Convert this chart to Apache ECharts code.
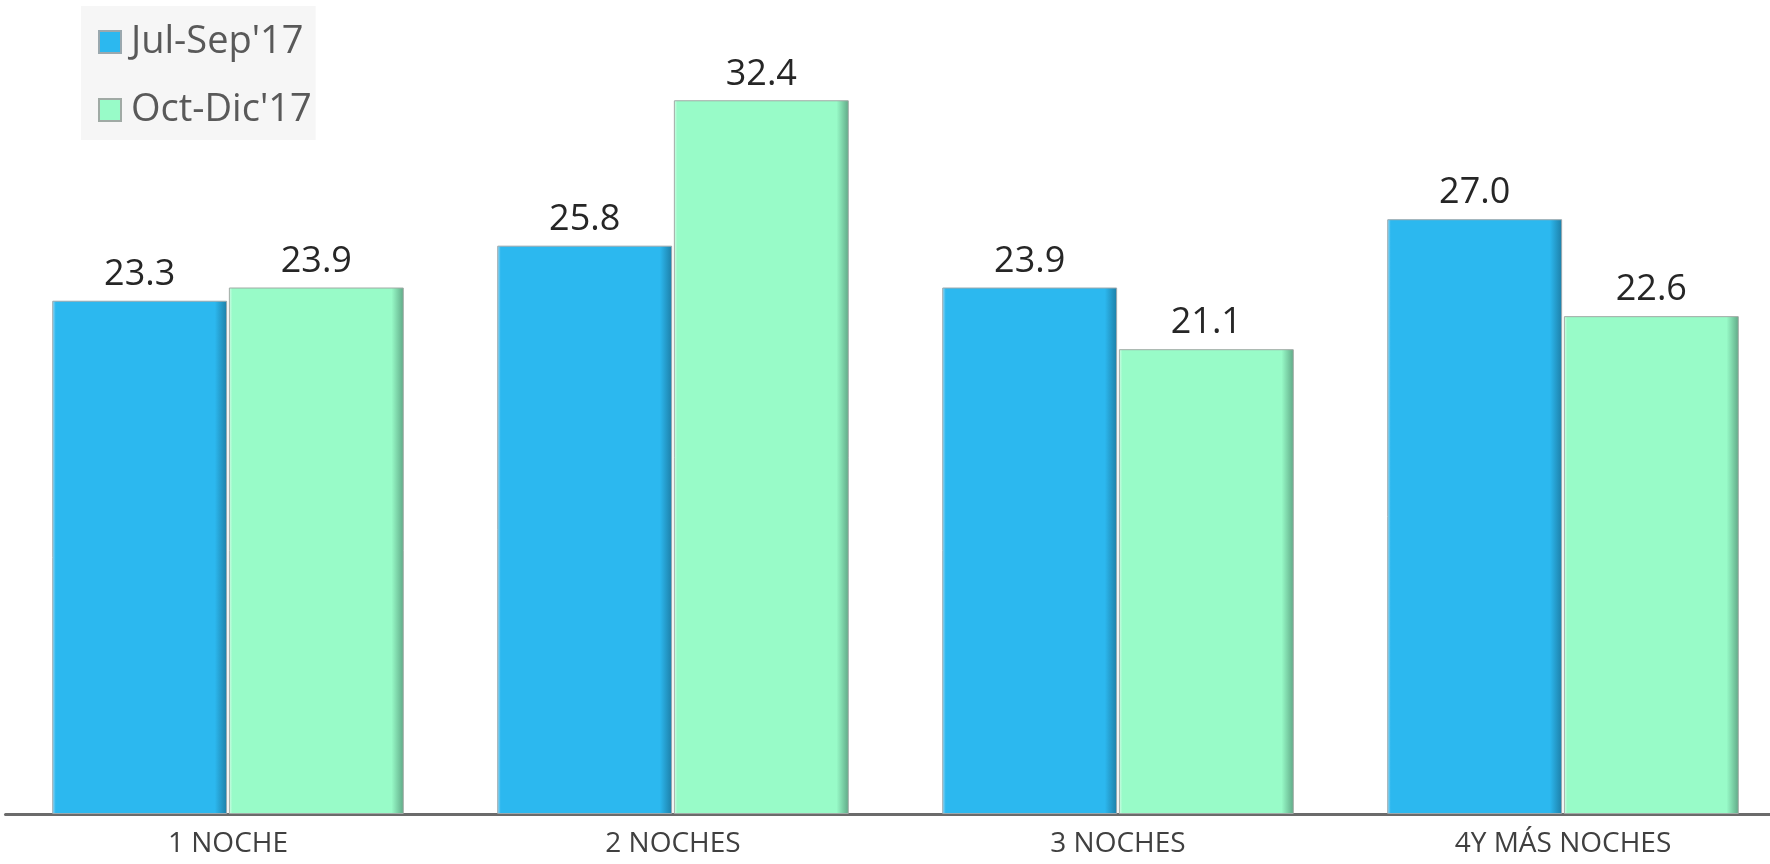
<!DOCTYPE html>
<html>
<head>
<meta charset="utf-8">
<script src="https://cdn.jsdelivr.net/npm/echarts@6/dist/echarts.min.js"></script>
<style>
html,body{margin:0;padding:0;background:#fff;overflow:hidden;}
#chart{width:1770px;height:864px;}
</style>
</head>
<body>
<div id="chart"></div>
<script>
const categories = ['1 NOCHE', '2 NOCHES', '3 NOCHES', '4Y MÁS NOCHES'];
const seriesNames = ["Jul-Sep'17", "Oct-Dic'17"];
const julSep = [23.3, 25.8, 23.9, 27.0];
const octDic = [23.9, 32.4, 21.1, 22.6];

function bevel(base, dark, light) {
  return new echarts.graphic.LinearGradient(0, 0, 1, 0, [
    {offset: 0, color: light},
    {offset: 0.02, color: base},
    {offset: 0.93, color: base},
    {offset: 1, color: dark}
  ]);
}

const chart = echarts.init(document.getElementById('chart'));
const labelStyle = {
  show: true,
  position: 'top',
  distance: 8,
  fontFamily: 'Open Sans',
  fontSize: 36,
  color: '#262626',
  formatter: p => p.value.toFixed(1)
};
chart.setOption({
  animation: false,
  grid: {left: 5.5, width: 1780, top: 43, bottom: 50, outerBoundsMode: 'none', containLabel: false},
  legend: {
    orient: 'vertical',
    left: 81,
    top: 6,
    padding: [14, 4, 8, 17],
    backgroundColor: '#f6f6f6',
    itemWidth: 22,
    itemHeight: 22,
    itemGap: 24,
    icon: 'rect',
    textStyle: {fontFamily: 'Open Sans', fontSize: 38, color: '#595959', lineHeight: 44, padding: [0, 0, 0, 5]},
    data: seriesNames
  },
  xAxis: {
    type: 'category',
    data: categories,
    axisLine: {lineStyle: {color: '#6b6b6b', width: 3}},
    axisTick: {show: false},
    axisLabel: {fontFamily: 'Open Sans', fontSize: 28, color: '#404040', margin: 16}
  },
  yAxis: {
    type: 'value',
    min: 0,
    max: 35,
    show: false,
    splitLine: {show: false}
  },
  series: [
    {
      name: seriesNames[0],
      type: 'bar',
      data: julSep,
      barGap: '1%',
      barCategoryGap: '21%',
      itemStyle: {
        color: bevel('#2cb8ef', '#1d7ea6', '#9fdcf6'),
        borderColor: '#9aa8ae',
        borderWidth: 1
      },
      label: labelStyle
    },
    {
      name: seriesNames[1],
      type: 'bar',
      data: octDic,
      barGap: '1%',
      barCategoryGap: '21%',
      itemStyle: {
        color: bevel('#98fbc8', '#5fa886', '#d6fde9'),
        borderColor: '#a0aaa5',
        borderWidth: 1
      },
      label: labelStyle
    }
  ]
});
</script>
</body>
</html>
